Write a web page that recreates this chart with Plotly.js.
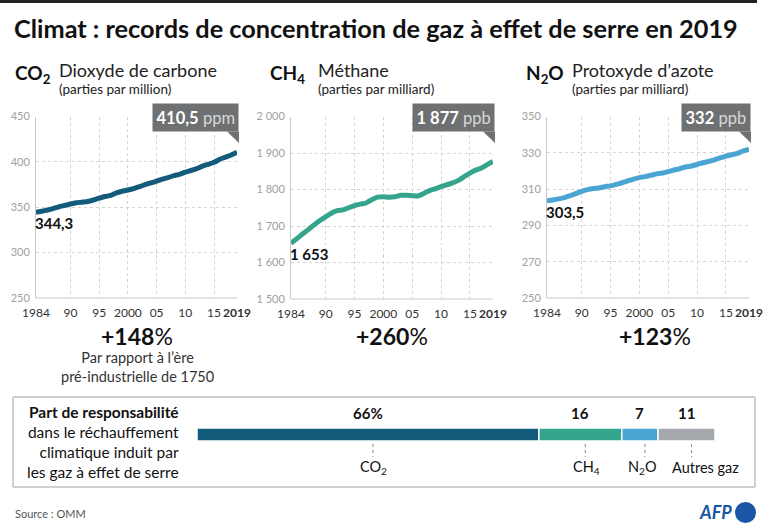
<!DOCTYPE html>
<html>
<head>
<meta charset="utf-8">
<script src="https://cdn.plot.ly/plotly-3.0.1.min.js"></script>
<style>html,body{margin:0;padding:0;background:#fff;}#chart{width:768px;height:529px;}</style>
</head>
<body>
<div id="chart"></div>
<script>
// ---- data ----
const years = [1984,1985,1986,1987,1988,1989,1990,1991,1992,1993,1994,1995,1996,1997,1998,1999,2000,2001,2002,2003,2004,2005,2006,2007,2008,2009,2010,2011,2012,2013,2014,2015,2016,2017,2018,2019];
const co2 = [344.3,345.6,347.0,348.5,350.5,352.0,353.6,354.9,355.6,356.4,358.0,360.0,361.8,363.0,365.8,367.6,369.0,370.6,372.6,374.9,376.8,378.8,380.9,382.7,384.8,386.3,388.6,390.5,392.6,395.4,397.3,399.5,402.9,405.3,407.6,410.5];
const ch4 = [1653,1665,1678,1690,1703,1715,1725,1735,1742,1744,1750,1756,1760,1763,1772,1779,1780,1779,1780,1784,1784,1783,1782,1789,1797,1802,1808,1813,1818,1825,1835,1845,1853,1859,1868,1877];
const n2o = [303.5,304.0,304.6,305.3,306.4,307.5,308.8,309.7,310.3,310.6,311.3,311.8,312.6,313.5,314.5,315.5,316.3,316.9,317.6,318.4,318.9,319.6,320.5,321.2,322.2,322.7,323.6,324.5,325.3,326.1,327.2,328.2,328.9,329.7,331.0,332.0];
const xTickVals = [1984,1990,1995,2000,2005,2010,2015,2019];
const xTickText = ['1984','90','95','2000','05','10','15','<b>2019</b>'];
const co2Ticks = [250,300,350,400,450];
const ch4Ticks = [1500,1600,1700,1800,1900,2000];
const ch4TickText = ['1 500','1 600','1 700','1 800','1 900','2 000'];
const n2oTicks = [250,270,290,310,330,350];
const gasNames = ['CO<sub>2</sub>','CH<sub>4</sub>','N<sub>2</sub>O','Autres gaz'];
const gasShares = [66,16,7,11];
const shareLabels = ['66%','16','7','11'];
const increases = ['+148','+260','+123'];
const startLabels = ['344,3','1 653','303,5'];
const endLabels = ['<b>410,5</b> <span style="color:#d8d8d8">ppm</span>','<b>1 877</b> <span style="color:#d8d8d8">ppb</span>','<b>332</b> <span style="color:#d8d8d8">ppb</span>'];

// ---- style ----
const W = 768, H = 529;
const px = v => v / W;
const py = v => 1 - v / H;
const FONT = 'Lato, "Open Sans", sans-serif';
const colors = ['#135b7a','#34a58c','#4aa5d3','#a5a9ad'];
const nameShift = [6, 6, 3, 19];   // pixel offsets of the gas names under the bar
const series = [co2, ch4, n2o];

const panels = [
  {xd:[36,237], yd:[116.5,298], range:[250,450], tv:co2Ticks, tt:co2Ticks.map(String)},
  {xd:[291,493], yd:[116.5,299], range:[1500,2000], tv:ch4Ticks, tt:ch4TickText},
  {xd:[547,749], yd:[116.5,298], range:[250,350], tv:n2oTicks, tt:n2oTicks.map(String)}
];

const data = [];
const layout = {
  width: W, height: H,
  margin: {l:0,r:0,t:0,b:0},
  paper_bgcolor: '#fff', plot_bgcolor: '#fff',
  showlegend: false,
  font: {family: FONT, color: '#222'},
  title: {text: '<b>Climat : records de concentration de gaz à effet de serre en 2019</b>',
          x: px(14), xanchor: 'left', xref: 'paper', y: py(29), yanchor: 'middle', yref: 'paper',
          font: {family: FONT, size: 25.3, color: '#111'}},
  shapes: [], annotations: []
};

panels.forEach((p, i) => {
  const n = i + 1;
  const sfx = n === 1 ? '' : String(n);
  data.push({
    type: 'scatter', mode: 'lines', x: years, y: series[i],
    xaxis: 'x' + sfx, yaxis: 'y' + sfx,
    line: {color: colors[i], width: 5, shape: 'spline', smoothing: 0.6},
    hoverinfo: 'skip'
  });
  layout['xaxis' + sfx] = {
    domain: [px(p.xd[0]), px(p.xd[1])], range: [1984, 2019], anchor: 'y' + sfx,
    tickvals: xTickVals, ticktext: xTickText, tickfont: {size: 12, color: '#333', family: FONT},
    showgrid: true, gridcolor: '#d4d4d4', griddash: 'dot', gridwidth: 1,
    zeroline: false, showline: false, ticks: '', ticklabelstandoff: 6
  };
  layout['yaxis' + sfx] = {
    domain: [py(p.yd[1]), py(p.yd[0])], range: p.range, anchor: 'x' + sfx,
    tickvals: p.tv, ticktext: p.tt, tickfont: {size: 11, color: '#a0a0a0', family: FONT},
    showgrid: true, gridcolor: '#d4d4d4', griddash: 'dot', gridwidth: 1,
    zeroline: false, showline: true, linecolor: '#c8c8c8', linewidth: 1, ticks: '', ticklabelstandoff: 3
  };
  // baseline
  layout.shapes.push({type:'line', xref: 'x' + sfx + ' domain', yref: 'y' + sfx + ' domain',
    x0: 0, x1: 1, y0: 0, y1: 0, line: {color:'#c8c8c8', width: 1}});
  // start label
  layout.annotations.push({xref: 'x' + sfx, yref: 'y' + sfx,
    x: years[0], y: series[i][0], text: '<b>' + startLabels[i] + '</b>', showarrow: false,
    xanchor: 'left', yanchor: 'top', xshift: -3, yshift: 0, font: {size: 15, color: '#111', family: FONT}});
  // end callout
  const boxRight = p.xd[1] + 2;
  layout.annotations.push({xref: 'paper', yref: 'paper', x: px(boxRight), y: py(132),
    xanchor: 'right', yanchor: 'bottom', text: endLabels[i], showarrow: false,
    bgcolor: '#6e7071', borderpad: 3.5, font: {size: 16.5, color: '#fff', family: FONT}});
  layout.shapes.push({type: 'path', xref: 'paper', yref: 'paper',
    path: 'M' + px(boxRight - 12) + ',' + py(131.5) + ' L' + px(boxRight) + ',' + py(131.5) + ' L' + px(boxRight) + ',' + py(143) + ' Z',
    fillcolor: '#6e7071', line: {width: 0}});
});

// headers
const headers = [
  {sym: '<b>CO<sub>2</sub></b>', x: 13, name: 'Dioxyde de carbone', unit: '(parties par million)', tx: 57},
  {sym: '<b>CH<sub>4</sub></b>', x: 268, name: 'Méthane', unit: '(parties par milliard)', tx: 316},
  {sym: '<b>N<sub>2</sub>O</b>', x: 524, name: 'Protoxyde d’azote', unit: '(parties par milliard)', tx: 570}
];
const centers = [137, 392, 655];
headers.forEach((h, i) => {
  layout.annotations.push({xref:'paper', yref:'paper', x: px(h.x), y: py(74), xanchor:'left', yanchor:'middle',
    text: h.sym, showarrow:false, font:{size: 19, color:'#111', family: FONT}});
  layout.annotations.push({xref:'paper', yref:'paper', x: px(h.tx), y: py(70), xanchor:'left', yanchor:'middle',
    text: h.name, showarrow:false, font:{size: 18, color:'#222', family: FONT}});
  layout.annotations.push({xref:'paper', yref:'paper', x: px(h.tx), y: py(89), xanchor:'left', yanchor:'middle',
    text: h.unit, showarrow:false, font:{size: 13.5, color:'#222', family: FONT}});
  layout.annotations.push({xref:'paper', yref:'paper', x: px(centers[i]), y: py(336), xanchor:'center', yanchor:'middle',
    text: '<b>' + increases[i] + '</b>%', showarrow:false, font:{size: 23, color:'#111', family: FONT}});
});
layout.annotations.push({xref:'paper', yref:'paper', x: px(centers[0]), y: py(367), xanchor:'center', yanchor:'middle',
  text: 'Par rapport à l’ère<br>pré-industrielle de 1750', showarrow:false, align:'center',
  font:{size: 14.5, color:'#333', family: FONT}});

// bottom box
layout.shapes.push({type:'rect', xref:'paper', yref:'paper', x0: px(13), x1: px(755), y0: py(487), y1: py(397),
  line:{color:'#a0a0a0', width:1}, fillcolor:'rgba(0,0,0,0)'});
layout.shapes.push({type:'rect', xref:'paper', yref:'paper', x0: 0, x1: px(757), y0: py(3), y1: 1,
  line:{width:0}, fillcolor:'#222'});
layout.annotations.push({xref:'paper', yref:'paper', x: px(181), y: py(442), xanchor:'right', yanchor:'middle',
  text: '<b>Part de responsabilité</b><br>dans le réchauffement<br>climatique induit par<br>les gaz à effet de serre',
  align:'right', showarrow:false, font:{size: 15.5, color:'#111', family: FONT}});

// stacked bar
layout.xaxis4 = {domain:[px(197), px(715)], range:[0,100], visible:false, anchor:'y4', fixedrange:true};
layout.yaxis4 = {domain:[py(441), py(428)], range:[-0.5,0.5], visible:false, anchor:'x4', fixedrange:true};
let cum = 0;
gasShares.forEach((v, i) => {
  data.push({type:'bar', orientation:'h', x:[v], y:[0], base: cum, width: 1, xaxis:'x4', yaxis:'y4',
    marker:{color: colors[i], line:{color:'#fff', width:1.5}}, hoverinfo:'skip'});
  const mid = cum + v / 2;
  layout.annotations.push({xref:'x4', yref:'paper', x: mid, y: py(413), xanchor:'center', yanchor:'middle',
    text: '<b>' + shareLabels[i] + '</b>', showarrow:false, font:{size: 15, color:'#111', family: FONT}});
  layout.annotations.push({xref:'x4', yref:'paper', x: mid, y: py(467), xanchor:'center', yanchor:'middle',
    text: gasNames[i], showarrow:false, xshift: nameShift[i], font:{size: 14.5, color:'#111', family: FONT}});
  layout.shapes.push({type:'line', xref:'x4', yref:'paper', xsizemode:'pixel', xanchor: mid, x0: 5, x1: 5,
    y0: py(444), y1: py(457), line:{color:'#888', width:1, dash:'dot'}});
  cum += v;
});
layout.barmode = 'overlay';

// footer
layout.annotations.push({xref:'paper', yref:'paper', x: px(13), y: py(513), xanchor:'left', yanchor:'middle',
  text: 'Source : OMM', showarrow:false, font:{size: 11, color:'#555', family: FONT}});
layout.annotations.push({xref:'paper', yref:'paper', x: px(734), y: py(512), xanchor:'right', yanchor:'middle',
  text: '<b><i>AFP</i></b>', showarrow:false, font:{size: 18, color:'#1a56a5', family: FONT}});
layout.shapes.push({type:'circle', xref:'paper', yref:'paper', x0: px(735), x1: px(756), y0: py(523), y1: py(502),
  fillcolor:'#1a56a5', line:{width:0}});

Plotly.newPlot('chart', data, layout, {displayModeBar:false, staticPlot:true});
</script>
</body>
</html>
